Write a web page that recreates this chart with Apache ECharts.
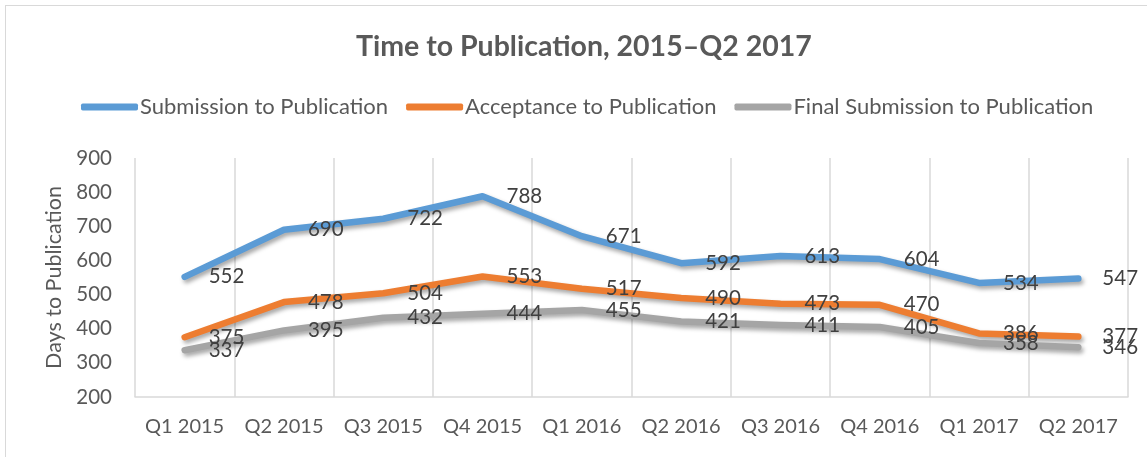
<!DOCTYPE html>
<html>
<head>
<meta charset="utf-8">
<script src="https://cdn.jsdelivr.net/npm/echarts@6/dist/echarts.min.js"></script>
<style>
  html, body { margin: 0; padding: 0; background: #fff; }
  #frame {
    position: absolute; left: 5px; top: 5px;
    width: 1160px; height: 470px;
    border: 1px solid #d9d9d9; box-sizing: border-box;
  }
  #chart { position: absolute; left: 0; top: 0; width: 1147px; height: 457px; }
</style>
</head>
<body>
<div id="frame"></div>
<div id="chart"></div>
<script>
// 季度
const quarters = ['Q1 2015', 'Q2 2015', 'Q3 2015', 'Q4 2015', 'Q1 2016',
  'Q2 2016', 'Q3 2016', 'Q4 2016', 'Q1 2017', 'Q2 2017']

const submission = [552, 690, 722, 788, 671, 592, 613, 604, 534, 547]
const acceptance = [375, 478, 504, 553, 517, 490, 473, 470, 386, 377]
const finalSubmission = [337, 395, 432, 444, 455, 421, 411, 405, 358, 346]

const seriesNames = ['Submission to Publication', 'Acceptance to Publication', 'Final Submission to Publication']
const colors = ['#5b9bd5', '#ed7d31', '#a5a5a5']

const FONT = 'Lato, "Open Sans", sans-serif'

const myChart = echarts.init(document.getElementById('chart'))

const makeSeries = (name, data, color) => ({
  name,
  type: 'line',
  data,
  symbol: 'circle',
  symbolSize: 0, // 不画点，但保留标签
  showSymbol: true,
  color,
  lineStyle: {
    width: 6.5,
    cap: 'round',
    join: 'round',
    shadowColor: 'rgba(0,0,0,0.35)',
    shadowBlur: 4,
    shadowOffsetX: 2,
    shadowOffsetY: 3
  },
  label: {
    show: true,
    position: 'right',
    distance: 24,
    color: '#404040',
    fontSize: 20.5,
    fontFamily: FONT
  },
  emphasis: { disabled: true }
})

const option = {
  backgroundColor: 'transparent',
  animation: false,
  title: {
    text: 'Time to Publication, 2015–Q2 2017',
    left: 351,
    top: 27,
    textStyle: { color: '#595959', fontSize: 28.5, fontWeight: 'bold', fontFamily: FONT }
  },
  legend: {
    data: seriesNames,
    top: 91,
    left: 76,
    icon: 'roundRect',
    itemWidth: 57,
    itemHeight: 7,
    itemGap: 18,
    textStyle: { color: '#595959', fontSize: 22, fontFamily: FONT, padding: [0, 0, 0, -3] }
  },
  grid: { left: 135, right: 19, top: 158, bottom: 60 },
  xAxis: {
    type: 'category',
    data: quarters,
    boundaryGap: true,
    axisLine: { lineStyle: { color: '#d9d9d9', width: 1.5 } },
    axisTick: { show: false },
    splitLine: { show: true, interval: 0, lineStyle: { color: '#d9d9d9', width: 1.5 } },
    axisLabel: { interval: 0, color: '#595959', fontSize: 20, fontFamily: FONT, margin: 20 }
  },
  yAxis: {
    type: 'value',
    min: 200,
    max: 900,
    interval: 100,
    name: 'Days to Publication',
    nameLocation: 'middle',
    nameGap: 69,
    nameTextStyle: { color: '#595959', fontSize: 21.5, fontFamily: FONT },
    axisLine: { show: false },
    axisTick: { show: false },
    splitLine: { show: false },
    axisLabel: { color: '#595959', fontSize: 20.5, fontFamily: FONT, margin: 23 }
  },
  series: [
    makeSeries(seriesNames[0], submission, colors[0]),
    makeSeries(seriesNames[1], acceptance, colors[1]),
    makeSeries(seriesNames[2], finalSubmission, colors[2])
  ]
}

myChart.setOption(option)
window.addEventListener('resize', () => myChart.resize())
</script>
</body>
</html>
